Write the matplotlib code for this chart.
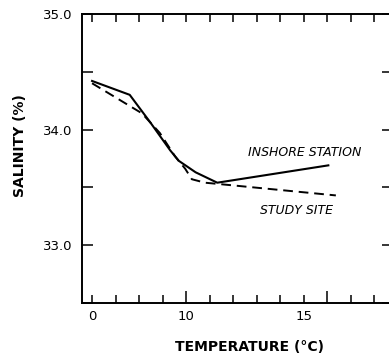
import numpy as np
import matplotlib
matplotlib.use('Agg')
import matplotlib.pyplot as plt

# values
inshore_temp = [0.0, 4.0, 6.2, 8.3, 9.2, 11.0, 13.3, 25.1]
inshore_sal = [34.42, 34.30, 34.06, 33.82, 33.73, 33.63, 33.54, 33.69]

study_temp = [0.0, 5.3, 7.2, 8.8, 9.9, 10.6, 12.0, 13.3, 25.9]
study_sal = [34.40, 34.14, 33.97, 33.77, 33.66, 33.57, 33.54, 33.53, 33.43]

x_ticks = np.arange(0, 30.1, 2.5)
x_labels = {0: '0', 10: '10', 22.5: '15'}
tall_ticks = [10, 25]
y_ticks = np.arange(32.5, 35.01, 0.5)
y_labels = {33.0: '33.0', 34.0: '34.0', 35.0: '35.0'}

plt.rcParams['font.family'] = 'DejaVu Sans'

fig = plt.figure(figsize=(3.89, 3.56), dpi=100)
# right spine sits just past the edge of the scan
ax = fig.add_axes([0.211, 0.149, 0.8, 0.812])

ax.plot(inshore_temp, inshore_sal, color='black', lw=1.5)
ax.plot(study_temp, study_sal, color='black', lw=1.4, dashes=(5, 3))

ax.set_xlim(-1.06, 32.0)
ax.set_ylim(32.5, 35.0)

ax.set_xticks(x_ticks)
ax.set_xticklabels([x_labels.get(float(t), '') for t in x_ticks])
ax.set_yticks(y_ticks)
ax.set_yticklabels([y_labels.get(round(float(t), 1), '') for t in y_ticks])

ax.tick_params(axis='both', direction='in', length=6, width=1.1,
               top=True, right=True, labelsize=9.5, pad=5)
ax.tick_params(axis='y', length=8, pad=7)
for t, tick in zip(x_ticks, ax.xaxis.get_major_ticks()):
    if t in tall_ticks:
        tick.tick1line.set_markersize(8.5)

for s in ax.spines.values():
    s.set_linewidth(1.4)

ax.set_xlabel('TEMPERATURE (°C)', fontsize=10, fontweight='bold')
ax.xaxis.set_label_coords(0.537, -0.128)
ax.set_ylabel('SALINITY (%)', fontsize=10, fontweight='bold', va='center')
ax.yaxis.set_label_coords(-0.2, 0.543)

ax.text(16.6, 33.80, 'INSHORE STATION', fontsize=9, style='italic',
        va='center', ha='left')
ax.text(17.8, 33.30, 'STUDY SITE', fontsize=9, style='italic',
        va='center', ha='left')

fig.savefig('out.png', dpi=100)
